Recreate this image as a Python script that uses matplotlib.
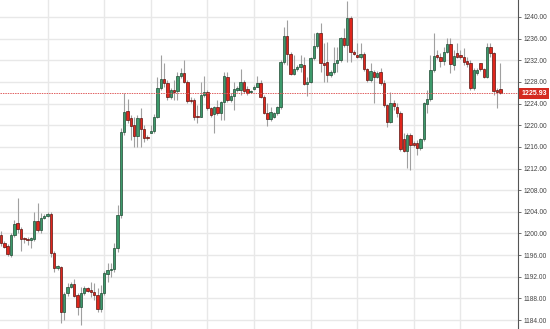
import matplotlib
matplotlib.use("Agg")
import matplotlib.pyplot as plt
import matplotlib.transforms as mtransforms

# OHLC candles (left to right)
opens = [
    1199.71, 1198.18, 1197.73, 1196.0, 1199.7, 1201.87, 1200.82, 1199.0, 1198.9, 1198.8,
    1198.92, 1202.35, 1200.63, 1202.8, 1203.2, 1203.53, 1196.44, 1193.67, 1193.74, 1185.42,
    1188.94, 1190.16, 1190.65, 1188.62, 1186.46, 1188.94, 1189.86, 1189.55, 1189.23, 1188.62,
    1185.98, 1189.05, 1192.5, 1193.24, 1193.37, 1197.25, 1203.41, 1218.80, 1222.63, 1221.28,
    1220.04, 1218.01, 1221.28, 1219.24, 1217.75, 1218.62, 1218.98, 1221.57, 1226.82, 1228.48,
    1227.75, 1225.16, 1226.51, 1226.32, 1229.09, 1229.70, 1228.04, 1224.66, 1224.66, 1221.7,
    1221.57, 1225.58, 1226.19, 1223.13, 1222.07, 1223.31, 1222.20, 1224.35, 1228.85, 1224.66,
    1225.40, 1226.51, 1226.51, 1228.04, 1226.64, 1226.1, 1226.75, 1227.0, 1227.86, 1225.27,
    1222.31, 1221.09, 1221.57, 1222.20, 1223.31, 1231.74, 1236.49, 1233.16, 1229.46, 1230.39,
    1230.81, 1231.13, 1227.56, 1228.04, 1232.37, 1234.64, 1236.99, 1231.55, 1231.74, 1229.28,
    1229.89, 1231.44, 1232.05, 1236.06, 1234.82, 1239.76, 1233.59, 1232.98, 1232.55, 1233.16,
    1230.33, 1228.36, 1229.89, 1228.97, 1229.89, 1227.75, 1223.74, 1220.65, 1224.16, 1223.31,
    1222.31, 1217.40, 1215.29, 1218.19, 1216.66, 1216.77, 1215.73, 1217.40, 1223.92, 1224.79,
    1230.20, 1232.98, 1232.55, 1231.92, 1233.59, 1235.01, 1231.13, 1233.40, 1232.98, 1232.55,
    1231.92, 1231.44, 1226.82, 1229.59, 1231.44, 1230.33, 1228.97, 1234.51, 1233.29, 1226.38,
    1226.64]
closes = [
    1198.18, 1197.55, 1196.20, 1199.7, 1201.74, 1200.82, 1198.97, 1198.9, 1198.8, 1199.1,
    1202.35, 1200.63, 1202.80, 1203.28, 1203.59, 1196.44, 1193.67, 1193.98, 1185.53, 1188.75,
    1190.16, 1190.65, 1188.44, 1186.46, 1188.94, 1189.86, 1189.42, 1189.12, 1188.62, 1185.98,
    1188.94, 1192.63, 1193.24, 1193.4, 1197.25, 1203.41, 1218.80, 1222.50, 1220.96, 1219.91,
    1218.01, 1221.28, 1219.24, 1217.58, 1217.6, 1218.98, 1221.57, 1226.82, 1228.48, 1227.75,
    1225.16, 1226.51, 1226.14, 1229.09, 1229.70, 1228.04, 1224.48, 1224.48, 1221.57, 1221.5,
    1225.58, 1226.19, 1223.13, 1221.89, 1223.31, 1222.20, 1224.35, 1229.09, 1224.66, 1225.40,
    1226.64, 1226.93, 1228.04, 1226.38, 1226.01, 1226.2, 1227.12, 1227.86, 1225.27, 1222.31,
    1221.09, 1222.50, 1222.31, 1223.31, 1231.74, 1236.49, 1233.16, 1229.46, 1230.39, 1230.81,
    1231.26, 1227.56, 1228.04, 1232.37, 1234.64, 1236.99, 1231.55, 1231.1, 1229.28, 1229.89,
    1231.44, 1232.05, 1236.06, 1234.82, 1239.76, 1233.59, 1233.16, 1232.55, 1233.16, 1230.33,
    1228.36, 1230.07, 1228.97, 1229.70, 1227.75, 1223.74, 1220.65, 1224.16, 1223.55, 1222.31,
    1215.55, 1215.29, 1218.19, 1216.34, 1216.29, 1215.73, 1217.40, 1224.05, 1224.79, 1230.20,
    1232.79, 1232.55, 1231.92, 1233.59, 1235.01, 1231.31, 1232.79, 1232.66, 1232.55, 1231.74,
    1231.31, 1226.82, 1230.20, 1230.20, 1230.33, 1228.97, 1234.51, 1233.29, 1226.38, 1226.19,
    1225.93]
highs = [
    1200.45, 1198.6, 1198.0, 1200.0, 1202.5, 1206.49, 1201.2, 1199.4, 1199.3, 1199.4,
    1204.02, 1205.57, 1203.72, 1203.6, 1203.9, 1204.0, 1196.8, 1194.17, 1194.0, 1189.2,
    1190.78, 1191.0, 1191.52, 1189.0, 1190.16, 1190.3, 1190.1, 1191.08, 1190.78, 1189.86,
    1190.47, 1193.0, 1194.48, 1194.48, 1198.18, 1205.25, 1219.5, 1225.90, 1224.85, 1221.89,
    1221.57, 1221.89, 1223.13, 1220.04, 1218.1, 1220.04, 1222.0, 1228.97, 1232.98, 1231.55,
    1228.36, 1226.9, 1228.36, 1229.89, 1230.52, 1232.05, 1228.4, 1225.27, 1224.97, 1223.74,
    1228.04, 1229.09, 1226.6, 1223.42, 1223.55, 1224.66, 1224.53, 1229.89, 1229.89, 1225.9,
    1228.04, 1227.25, 1230.33, 1228.4, 1227.25, 1226.5, 1227.4, 1229.09, 1228.36, 1225.6,
    1224.05, 1223.31, 1222.5, 1223.6, 1232.0, 1238.21, 1239.44, 1233.59, 1232.98, 1231.1,
    1232.98, 1232.66, 1228.97, 1232.66, 1236.99, 1237.28, 1238.83, 1235.14, 1235.43, 1230.2,
    1234.51, 1234.51, 1236.36, 1237.91, 1242.96, 1240.1, 1233.9, 1235.14, 1235.14, 1233.59,
    1230.6, 1231.44, 1230.2, 1230.0, 1230.57, 1228.36, 1224.0, 1226.19, 1224.66, 1224.05,
    1222.6, 1218.5, 1218.5, 1218.5, 1217.0, 1217.27, 1217.7, 1224.3, 1226.51, 1232.98,
    1236.99, 1233.90, 1233.29, 1234.51, 1236.06, 1236.06, 1233.90, 1235.14, 1233.9, 1234.22,
    1232.66, 1232.05, 1230.5, 1230.5, 1231.55, 1230.6, 1235.14, 1235.14, 1233.6, 1226.88,
    1231.44]
lows = [
    1197.68, 1197.25, 1195.83, 1195.7, 1199.3, 1200.08, 1196.75, 1198.2, 1197.86, 1197.25,
    1198.6, 1200.2, 1200.0, 1202.6, 1203.0, 1195.70, 1192.87, 1193.2, 1183.39, 1184.0,
    1188.5, 1189.9, 1188.2, 1184.93, 1183.08, 1188.7, 1189.2, 1188.31, 1187.70, 1185.53,
    1185.53, 1188.6, 1191.08, 1192.0, 1192.93, 1196.63, 1202.8, 1218.19, 1220.5, 1217.27,
    1216.03, 1216.03, 1216.03, 1216.95, 1217.3, 1218.5, 1218.6, 1221.28, 1226.5, 1227.12,
    1224.66, 1224.9, 1224.66, 1224.66, 1228.8, 1227.75, 1224.05, 1224.05, 1220.96, 1220.46,
    1221.46, 1225.27, 1222.9, 1221.57, 1218.50, 1221.89, 1220.96, 1220.96, 1224.3, 1224.35,
    1222.81, 1226.19, 1225.58, 1226.0, 1225.58, 1225.9, 1226.5, 1227.0, 1225.0, 1222.0,
    1219.85, 1220.83, 1221.28, 1221.9, 1223.0, 1231.4, 1231.13, 1229.28, 1229.2, 1230.1,
    1229.89, 1227.43, 1225.40, 1227.75, 1232.05, 1234.3, 1229.89, 1228.04, 1228.04, 1229.0,
    1229.5, 1229.89, 1231.7, 1234.51, 1231.74, 1231.74, 1232.9, 1232.37, 1232.18, 1230.07,
    1228.0, 1228.0, 1224.05, 1228.7, 1227.5, 1223.42, 1219.73, 1220.4, 1222.81, 1221.57,
    1215.3, 1215.05, 1212.04, 1211.72, 1216.0, 1214.50, 1215.4, 1217.1, 1222.20, 1224.5,
    1229.9, 1232.18, 1230.81, 1231.13, 1233.3, 1229.59, 1230.20, 1232.4, 1232.3, 1231.13,
    1230.81, 1226.6, 1226.6, 1229.3, 1230.07, 1228.7, 1228.7, 1232.66, 1225.58, 1223.13,
    1225.7]

last_price = 1225.93
price_ticks = [1184, 1188, 1192, 1196, 1200, 1204, 1208, 1212, 1216, 1220,
               1224, 1228, 1232, 1236, 1240]
vgrid_idx = [14, 31, 45, 62, 76, 93, 107, 124, 138]

up_face, up_edge = "#3d9a6b", "#1f4a33"
dn_face, dn_edge = "#e0261c", "#5c1410"

fig = plt.figure(figsize=(5.5, 3.29), dpi=100)
ax = fig.add_axes([0, 0, 518 / 550, 1])

n = len(opens)
xs = list(range(n))

# grid
for t in price_ticks:
    ax.axhline(t, color="#e8e8e8", lw=1.0, zorder=0)
for g in vgrid_idx:
    ax.axvline(g, color="#e8e8e8", lw=1.0, zorder=0)

# wicks
ax.vlines(xs, lows, highs, color="#a0a0a0", lw=0.8, zorder=1)

# bodies
for i in xs:
    o, c = opens[i], closes[i]
    up = c >= o
    bottom = min(o, c)
    h = max(abs(c - o), 0.25)
    ax.bar(i, h, bottom=bottom, width=0.72,
           color=up_face if up else dn_face,
           edgecolor=up_edge if up else dn_edge,
           linewidth=0.5, zorder=2)

# last price line + label
ax.axhline(last_price, color="#e06060", lw=0.7, ls=(0, (1.5, 1)), zorder=3)
trans = mtransforms.blended_transform_factory(ax.transAxes, ax.transData)
ax.text(1.006, last_price, f"{last_price:.2f}", transform=trans,
        ha="left", va="center", color="white", fontsize=5.0, fontweight="bold",
        family="Liberation Sans", clip_on=False, zorder=5,
        bbox=dict(boxstyle="square,pad=0.3", fc="#d42a20", ec="none"))

ax.set_xlim(-0.3, 155.3)
ax.set_ylim(1182.34, 1243.14)

ax.yaxis.tick_right()
ax.set_yticks(price_ticks)
ax.set_yticklabels([f"{t:.2f}" for t in price_ticks], family="Liberation Sans")
ax.tick_params(axis="y", direction="out", length=2.5, width=0.6, pad=1.5,
               labelsize=4.8, colors="#555555", labelcolor="#444444")
ax.set_xticks([])
for s in ["top", "left", "bottom"]:
    ax.spines[s].set_visible(False)
ax.spines["right"].set_color("#555555")
ax.spines["right"].set_linewidth(0.8)

fig.savefig("out.png", dpi=100)
